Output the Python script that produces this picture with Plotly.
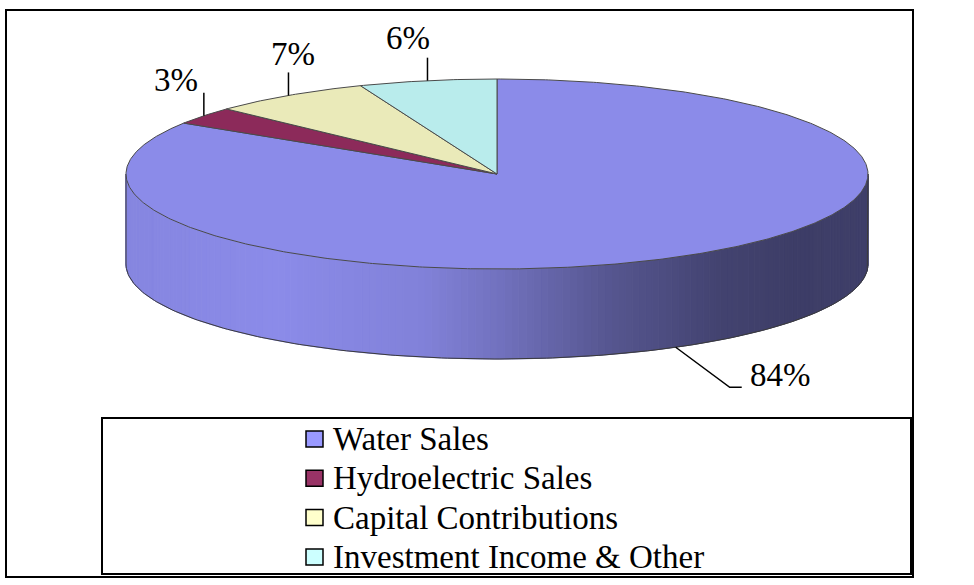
import numpy as np
import plotly.graph_objects as go

# ---------------- data ----------------
categories = ["Water Sales", "Hydroelectric Sales", "Capital Contributions", "Investment Income & Other"]
values = [84, 3, 7, 6]
pct_labels = ["84%", "3%", "7%", "6%"]

# ---------------- style ----------------
top_colors = [(139, 139, 233), (140, 42, 90), (234, 234, 185), (185, 236, 236)]
legend_colors = ["#9999FF", "#993366", "#FFFFCC", "#CCFFFF"]
FONT = "Liberation Serif, Times New Roman, serif"
W, H = 974, 585
CX, CY, RX, RY, DEPTH = 497, 174, 371, 95, 90
# label offsets from leader end (style)
label_offsets = [(6, -12), (-28, -13), (5, -18), (-19, -20)]

def pt(theta_deg, dy=0.0):
    t = np.radians(theta_deg)
    return CX + RX * np.sin(t), CY - RY * np.cos(t) + dy

fracs = np.array(values, dtype=float) / float(sum(values))
ends = np.cumsum(fracs) * 360.0
starts = np.concatenate([[0.0], ends[:-1]])

def slice_of(theta):
    for i in range(len(values)):
        if starts[i] <= theta < ends[i]:
            return i
    return len(values) - 1

def rgb(c):
    return "rgb(%d,%d,%d)" % tuple(int(round(v)) for v in c)

fig = go.Figure()

# ---- side of the cylinder (front half), gradient via strips ----
shade_t = [0.0, 0.2, 0.4, 0.5, 0.65, 0.8, 0.9, 1.0]
shade_f = [0.96, 1.0, 0.93, 0.82, 0.62, 0.48, 0.44, 0.45]
N = 160
side_th = np.linspace(90, 270, N + 1)
for k in range(N):
    a, b = side_th[k], side_th[k + 1]
    m = 0.5 * (a + b)
    i = slice_of(m)
    arc = np.linspace(a, b, 4)
    xs_top, ys_top = pt(arc)
    xs_bot, ys_bot = pt(arc[::-1], DEPTH)
    xs = np.concatenate([xs_top, xs_bot, xs_top[:1]])
    ys = np.concatenate([ys_top, ys_bot, ys_top[:1]])
    xm, _ = pt(m)
    t = (xm - (CX - RX)) / (2 * RX)
    f = np.interp(t, shade_t, shade_f)
    col = rgb(np.array(top_colors[i]) * f)
    fig.add_trace(go.Scatter(x=xs, y=ys, mode="lines", fill="toself", fillcolor=col,
                             line=dict(color=col, width=1), hoverinfo="skip", showlegend=False))

# side outline
arc = np.linspace(90, 270, 200)
bx, by = pt(arc, DEPTH)
lx, ly = pt(270)
rx_, ry_ = pt(90)
ox = np.concatenate([[rx_], bx, [lx]])
oy = np.concatenate([[ry_], by, [ly]])
fig.add_trace(go.Scatter(x=ox, y=oy, mode="lines", line=dict(color="#3a3a3a", width=1),
                         hoverinfo="skip", showlegend=False))

# ---- top faces ----
for i in range(len(values)):
    arc = np.linspace(starts[i], ends[i], max(8, int((ends[i] - starts[i]) * 2)))
    ax_, ay_ = pt(arc)
    xs = np.concatenate([[CX], ax_, [CX]])
    ys = np.concatenate([[CY], ay_, [CY]])
    fig.add_trace(go.Scatter(x=xs, y=ys, mode="lines", fill="toself", fillcolor=rgb(top_colors[i]),
                             line=dict(color="#4a4a4a", width=1), hoverinfo="skip",
                             name=categories[i], showlegend=False))

# ---- leader lines and percentage labels ----
annotations = []
shapes = []
for i in range(len(values)):
    mid = 0.5 * (starts[i] + ends[i])
    front = np.cos(np.radians(mid)) < 0
    if front:
        sx, sy = pt(mid, DEPTH)
        ex, ey = sx + 54, sy + 40
        fx, fy = ex + 12, ey
        lxs, lys = [sx, ex, fx], [sy, ey, fy]
        tx, ty = fx + label_offsets[i][0], fy + label_offsets[i][1]
        xanchor = "left"
    else:
        sx, sy = pt(mid)
        ex, ey = sx, sy - 23
        lxs, lys = [sx, ex], [sy, ey]
        tx, ty = ex + label_offsets[i][0], ey + label_offsets[i][1]
        xanchor = "center"
    fig.add_trace(go.Scatter(x=lxs, y=lys, mode="lines", line=dict(color="black", width=1.5),
                             hoverinfo="skip", showlegend=False))
    annotations.append(dict(x=tx, y=ty, xref="x", yref="y", text=pct_labels[i], showarrow=False,
                            xanchor=xanchor, yanchor="middle",
                            font=dict(family=FONT, size=33, color="black")))

# ---- legend (drawn) ----
LEG_X0, LEG_X1, LEG_Y0, LEG_Y1 = 102, 911, 418, 574
shapes.append(dict(type="rect", xref="x", yref="y", x0=LEG_X0, x1=LEG_X1, y0=LEG_Y0, y1=LEG_Y1,
                   line=dict(color="black", width=2), fillcolor="rgba(0,0,0,0)"))
row0, row_step = 439, 39.3
for i, name in enumerate(categories):
    yc = row0 + i * row_step
    shapes.append(dict(type="rect", xref="x", yref="y", x0=306, x1=323, y0=yc - 8, y1=yc + 8,
                       line=dict(color="black", width=1.5), fillcolor=legend_colors[i]))
    annotations.append(dict(x=331, y=yc, xref="x", yref="y", text=name, showarrow=False,
                            xanchor="left", yanchor="middle",
                            font=dict(family=FONT, size=33, color="black")))

# outer border
shapes.append(dict(type="rect", xref="x", yref="y", x0=6, x1=913, y0=10, y1=577,
                   line=dict(color="black", width=2), fillcolor="rgba(0,0,0,0)"))

fig.update_layout(
    width=W, height=H, margin=dict(l=0, r=0, t=0, b=0),
    paper_bgcolor="white", plot_bgcolor="white", showlegend=False,
    font=dict(family=FONT),
    xaxis=dict(range=[0, W], visible=False, fixedrange=True),
    yaxis=dict(range=[H, 0], visible=False, fixedrange=True),
    annotations=annotations, shapes=shapes,
)
fig.write_html("out.html", config={"displayModeBar": False},
               post_script="document.body.style.margin='0';document.body.style.overflow='hidden';")
